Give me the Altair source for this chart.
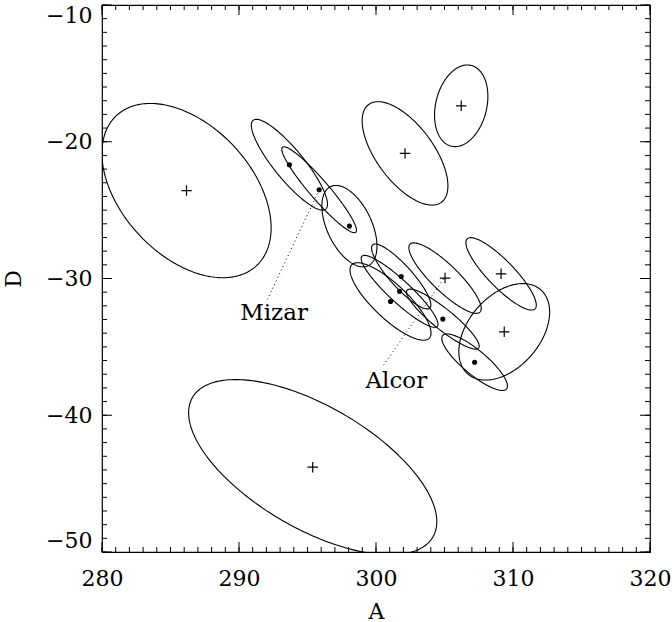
import numpy as np
import pandas as pd
import altair as alt

# ---- ellipses centred on '+' markers (centre A, centre D, semi-major, semi-minor, angle deg)
cross_a = [286.17, 295.38, 302.12, 306.22, 309.36, 309.13, 305.04]
cross_d = [-23.57, -43.80, -20.85, -17.37, -33.90, -29.66, -29.97]
cross_major = [7.50, 10.15, 4.45, 3.04, 4.07, 3.56, 3.56]
cross_minor = [4.74, 4.48, 2.07, 1.86, 2.62, 0.97, 0.97]
cross_angle = [-47.1, -30.2, -53.4, 76.2, 49.3, -46.0, -44.2]

# ---- ellipses centred on filled dots
dot_a = [293.68, 295.85, 298.06, 301.84, 301.72, 301.06, 304.88, 307.20]
dot_d = [-21.68, -23.51, -26.17, -29.85, -30.94, -31.68, -32.97, -36.12]
dot_major = [4.19, 4.10, 3.20, 3.11, 3.76, 3.90, 3.36, 3.04]
dot_minor = [1.09, 0.70, 1.63, 0.80, 0.80, 1.25, 0.75, 0.88]
dot_angle = [-50.8, -49.3, -64.7, -48.0, -43.0, -43.5, -39.0, -40.0]

# ---- star labels and dotted leader lines
labels = ["Mizar", "Alcor"]
label_a = [292.56, 301.48]
label_d = [-33.04, -38.02]
leader_from_a = [295.85, 304.93]
leader_from_d = [-23.53, -30.04]
leader_to_a = [292.05, 300.45]
leader_to_d = [-31.58, -36.48]

# ---- axis ticks
x_major = [280, 290, 300, 310, 320]
y_major = [-50, -40, -30, -20, -10]
x_minor = list(range(280, 321))
y_minor = list(range(-50, -9))

FONT = "DejaVu Serif"
W, H = 548, 547
MAJ, MIN = 10, 5

# build ellipse outlines from their parameters
t = np.linspace(0, 2 * np.pi, 241)
rows = []
params = list(zip(cross_a, cross_d, cross_major, cross_minor, cross_angle)) + \
         list(zip(dot_a, dot_d, dot_major, dot_minor, dot_angle))
for k, (cx, cy, a, b, ang) in enumerate(params):
    th = np.radians(ang)
    xs = cx + a * np.cos(th) * np.cos(t) - b * np.sin(th) * np.sin(t)
    ys = cy + a * np.sin(th) * np.cos(t) + b * np.cos(th) * np.sin(t)
    for j in range(len(t)):
        rows.append({"id": k, "i": j, "a": xs[j], "d": ys[j]})
ell_df = pd.DataFrame(rows)

cross_df = pd.DataFrame({"a": cross_a, "d": cross_d})
dot_df = pd.DataFrame({"a": dot_a, "d": dot_d})
label_df = pd.DataFrame({"a": label_a, "d": label_d, "t": labels})
lead_rows = []
for k in range(len(labels)):
    lead_rows.append({"g": k, "o": 0, "a": leader_from_a[k], "d": leader_from_d[k]})
    lead_rows.append({"g": k, "o": 1, "a": leader_to_a[k], "d": leader_to_d[k]})
lead_df = pd.DataFrame(lead_rows)

xscale = alt.Scale(domain=[280, 320], nice=False, zero=False)
yscale = alt.Scale(domain=[-50, -10], nice=False, zero=False)

label_x_axis = alt.Axis(orient="bottom", values=x_major, ticks=False, tickSize=0, domain=False,
                        grid=False, labelFont=FONT, labelFontSize=22, labelColor="black",
                        labelPadding=16, labelFlush=False, format="d", title="A",
                        titleFont=FONT, titleFontSize=22, titleFontWeight="normal",
                        titleColor="black", titlePadding=12)
label_y_axis = alt.Axis(orient="left", values=y_major, ticks=False, tickSize=0, domain=False,
                        grid=False, labelFont=FONT, labelFontSize=22, labelColor="black",
                        labelPadding=10, labelFlush=True, format="d", title="D",
                        titleFont=FONT, titleFontSize=22, titleFontWeight="normal",
                        titleColor="black", titlePadding=20)

def X(axis=None):
    if axis is None:
        return alt.X("a:Q", scale=xscale)
    return alt.X("a:Q", scale=xscale, axis=axis)

def Y(axis=None):
    if axis is None:
        return alt.Y("d:Q", scale=yscale)
    return alt.Y("d:Q", scale=yscale, axis=axis)

ellipses = alt.Chart(ell_df).mark_line(color="black", strokeWidth=1.1, clip=True).encode(
    x=X(label_x_axis), y=Y(label_y_axis), detail="id:N", order="i:Q")

# inward tick marks on all four sides, placed through the scales
xmaj_df = pd.DataFrame({"a": x_major})
xmin_df = pd.DataFrame({"a": x_minor})
ymaj_df = pd.DataFrame({"d": y_major})
ymin_df = pd.DataFrame({"d": y_minor})

def xticks(df, size):
    bottom = alt.Chart(df).mark_rule(color="black", strokeWidth=1).encode(
        x=X(), y=alt.value(H), y2=alt.value(H - size))
    top = alt.Chart(df).mark_rule(color="black", strokeWidth=1).encode(
        x=X(), y=alt.value(0), y2=alt.value(size))
    return [bottom, top]

def yticks(df, size):
    left = alt.Chart(df).mark_rule(color="black", strokeWidth=1).encode(
        y=Y(), x=alt.value(0), x2=alt.value(size))
    right = alt.Chart(df).mark_rule(color="black", strokeWidth=1).encode(
        y=Y(), x=alt.value(W), x2=alt.value(W - size))
    return [left, right]

tick_layers = xticks(xmin_df, MIN) + xticks(xmaj_df, MAJ) + yticks(ymin_df, MIN) + yticks(ymaj_df, MAJ)

crosses = alt.Chart(cross_df).mark_point(shape="M-1,0L1,0M0,-1L0,1", size=110, filled=False,
                                         stroke="black", strokeWidth=1.2, opacity=1).encode(
    x=X(), y=Y())
dots = alt.Chart(dot_df).mark_circle(size=26, color="black", opacity=1).encode(
    x=X(), y=Y())
leaders = alt.Chart(lead_df).mark_line(color="black", strokeWidth=1, strokeDash=[1, 3]).encode(
    x=X(), y=Y(), detail="g:N", order="o:Q")
texts = alt.Chart(label_df).mark_text(font=FONT, fontSize=23, align="center",
                                      baseline="alphabetic", color="black").encode(
    x=X(), y=Y(), text="t:N")

chart = alt.layer(ellipses, *tick_layers, leaders, crosses, dots, texts).properties(
    width=W, height=H,
    autosize=alt.AutoSizeParams(type="none"),
    padding={"left": 102, "top": 5, "right": 22, "bottom": 70},
    background="white",
).configure_view(stroke="black", strokeWidth=1.2)

chart.save("out.html", embed_options={"renderer": "svg", "actions": False})
